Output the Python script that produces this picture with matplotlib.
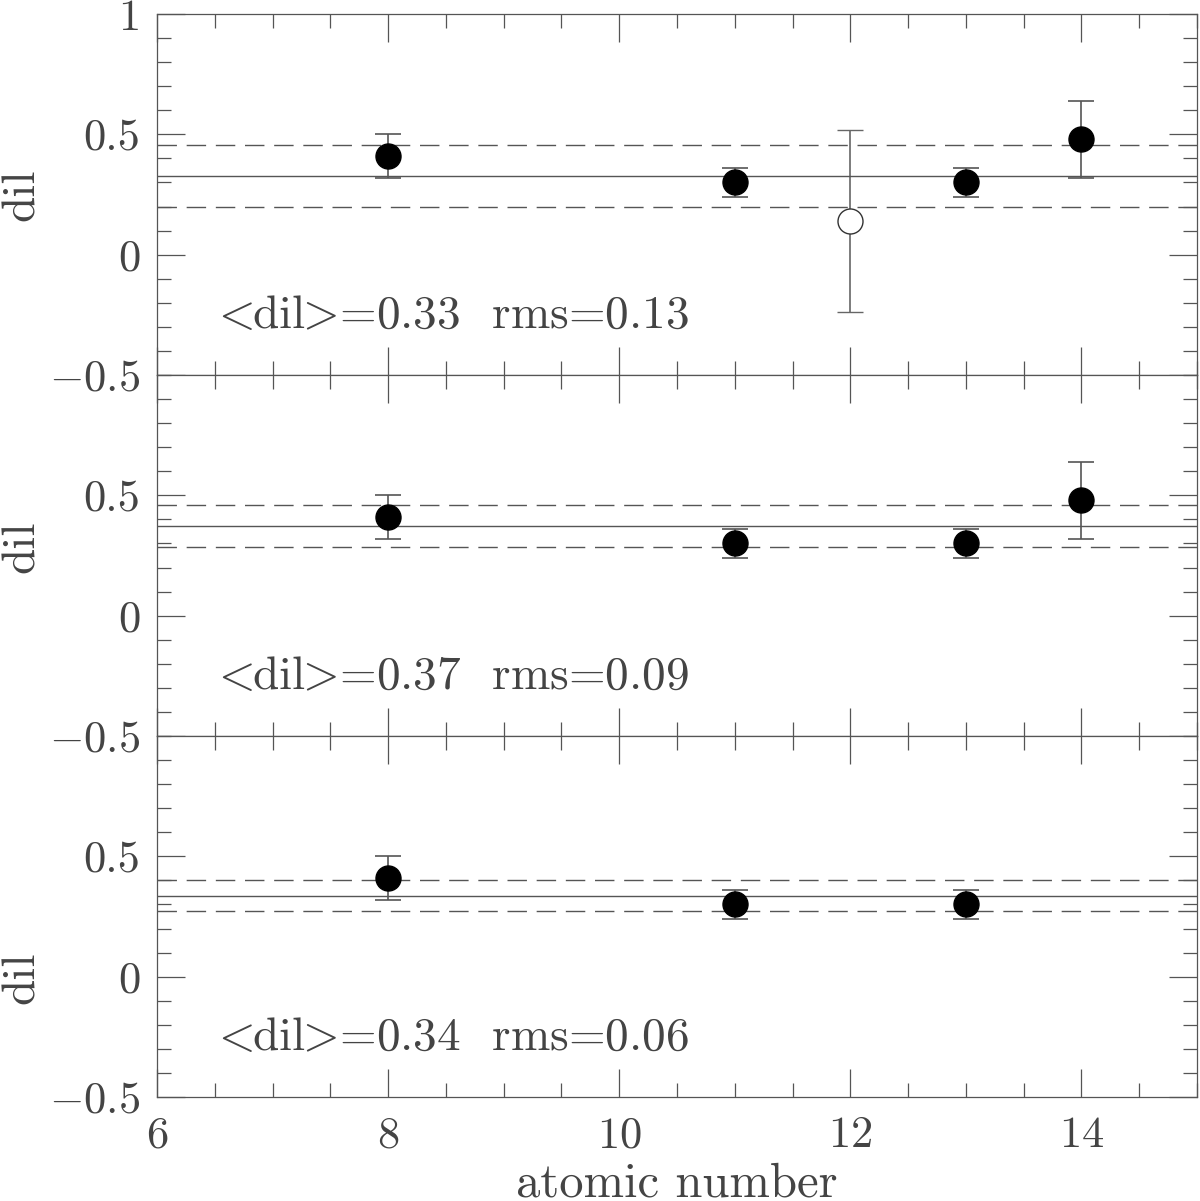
import numpy as np
import matplotlib
matplotlib.use('Agg')
import matplotlib.pyplot as plt
from matplotlib.ticker import MultipleLocator, FixedLocator

plt.rcParams['font.family'] = 'cmr10'
plt.rcParams['axes.formatter.use_mathtext'] = True
plt.rcParams['mathtext.fontset'] = 'cm'

# data: atomic number, dilution, error, open marker flag
Z = [8, 11, 12, 13, 14]
dil = [0.41, 0.30, 0.14, 0.30, 0.48]
err = [0.09, 0.06, 0.38, 0.06, 0.16]
is_open = [False, False, True, False, False]

# which points go in each panel (top, middle, bottom)
panels = [[8, 11, 12, 13, 14],
          [8, 11, 13, 14],
          [8, 11, 13]]
ylab_pos = [0.50, 0.525, 0.33]

grey = '#444444'
lgrey = '#555555'
fig = plt.figure(figsize=(12, 12.01), dpi=100)

left = 157/1200
width = 1040/1200
h = 361/1201
bot0 = 1 - 1097/1201

lt = r'$\hspace{-0.2}<\hspace{-0.25}$'
gt = r'$\hspace{-0.25}>\hspace{-0.2}$'

for k, keep in enumerate(panels):
    ax = fig.add_axes([left, bot0 + (2-k)*h, width, h])
    vals = []
    for z, d, e, o in zip(Z, dil, err, is_open):
        if z not in keep:
            continue
        vals.append(d)
        if o:
            ax.errorbar(z, d, yerr=e, fmt='o', mfc='white', mec='#333333', mew=1.0,
                        ms=18, ecolor='#666666', elinewidth=1.2, capsize=9.5, capthick=1.2)
        else:
            ax.errorbar(z, d, yerr=e, fmt='o', color='black', ms=18,
                        ecolor=lgrey, elinewidth=1.2, capsize=9.5, capthick=1.2)
    m = np.mean(vals)
    s = np.std(vals, ddof=1)
    ax.axhline(m, color=lgrey, lw=1.0)
    ax.axhline(m + s, color=lgrey, lw=1.0, dashes=(14, 7), dash_capstyle='butt')
    ax.axhline(m - s, color=lgrey, lw=1.0, dashes=(14, 7), dash_capstyle='butt')
    ax.text(6.53, -0.255, lt + 'dil' + gt + '=%.2f  rms=%.2f' % (m, s), fontsize=34,
            color=grey, va='center', ha='left')

    ax.set_xlim(6, 15)
    ax.set_ylim(-0.5, 1)
    ax.xaxis.set_major_locator(MultipleLocator(2))
    ax.xaxis.set_minor_locator(MultipleLocator(0.5))
    if k == 0:
        ax.yaxis.set_major_locator(FixedLocator([-0.5, 0, 0.5, 1]))
    else:
        ax.yaxis.set_major_locator(FixedLocator([-0.5, 0, 0.5]))
    ax.yaxis.set_minor_locator(MultipleLocator(0.1))
    ax.tick_params(which='both', direction='in', top=True, right=True, color=lgrey,
                   labelsize=32, labelcolor=grey, width=0.9)
    ax.tick_params(which='major', length=20, pad=12)
    ax.tick_params(which='minor', length=10)
    ax.tick_params(axis='x', pad=14)
    ax.yaxis.set_major_formatter(plt.FuncFormatter(
        lambda v, p: ('$-$' if v < 0 else '') + ('%g' % abs(v))))
    for sp in ax.spines.values():
        sp.set_color(lgrey)
        sp.set_linewidth(0.9)
    ax.set_ylabel('dil', fontsize=34, color=grey)
    ax.yaxis.set_label_coords(-0.110, ylab_pos[k])
    if k < 2:
        ax.tick_params(labelbottom=False)
    else:
        ax.set_xlabel('atomic number', fontsize=35, color=grey)
        ax.xaxis.set_label_coords(0.5, -0.18)

fig.savefig('out.png', dpi=100)
